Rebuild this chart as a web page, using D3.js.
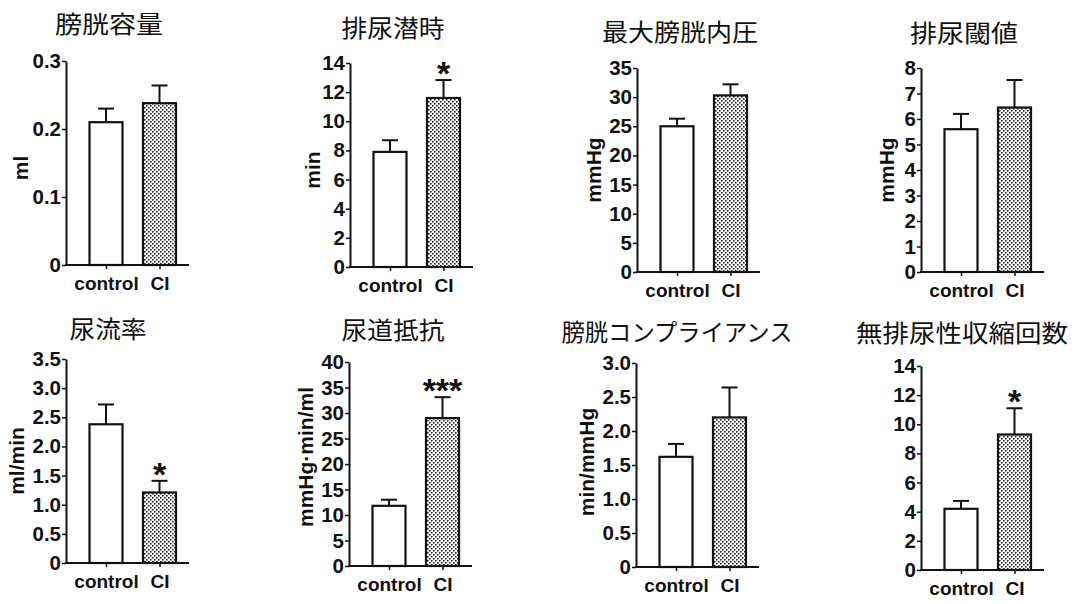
<!DOCTYPE html>
<html>
<head>
<meta charset="utf-8">
<script src="https://cdn.jsdelivr.net/npm/d3@7"></script>
<style>
  body { margin: 0; background: #fff; }
  .tick text { font-family: "Liberation Sans", Arial, sans-serif; font-weight: bold; font-size: 19px; fill: #111; }
  .ytick .tick text { font-size: 20.5px; }
</style>
</head>
<body>
<svg id="chart"></svg>
<script>
var titles = ["膀胱容量", "排尿潜時", "最大膀胱内圧", "排尿閾値", "尿流率", "尿道抵抗", "膀胱コンプライアンス", "無排尿性収縮回数"];
var yLabels = ["ml", "min", "mmHg", "mmHg", "ml/min", "mmHg·min/ml", "min/mmHg", ""];
var groups = ["control", "CI"];
var controlMeans = [0.21, 7.9, 25.0, 5.6, 2.38, 11.8, 1.62, 4.2];
var controlErrs  = [0.02, 0.8, 1.3, 0.6, 0.34, 1.2, 0.19, 0.54];
var ciMeans = [0.238, 11.6, 30.3, 6.45, 1.21, 29.0, 2.2, 9.3];
var ciErrs  = [0.026, 1.23, 1.9, 1.08, 0.2, 4.1, 0.44, 1.8];
var stars = ["", "*", "", "", "*", "***", "", "*"];
var yTickLabels = [
  ["0", "0.1", "0.2", "0.3"],
  ["0", "2", "4", "6", "8", "10", "12", "14"],
  ["0", "5", "10", "15", "20", "25", "30", "35"],
  ["0", "1", "2", "3", "4", "5", "6", "7", "8"],
  ["0", "0.5", "1.0", "1.5", "2.0", "2.5", "3.0", "3.5"],
  ["0", "5", "10", "15", "20", "25", "30", "35", "40"],
  ["0", "0.5", "1.0", "1.5", "2.0", "2.5", "3.0"],
  ["0", "2", "4", "6", "8", "10", "12", "14"]
];

var width = 1078;
var height = 604;
var plotH = 204;
var axisLen = 123;
var barW = 33;

// where each panel sits on the page
var layout = [
  {ax: 66,  top: 61,  tx: 109, ty: 24,  tw: 108, lx: 28,  ly: 168},
  {ax: 350, top: 63,  tx: 393, ty: 28,  tw: 103, lx: 320, ly: 170},
  {ax: 637, top: 68,  tx: 680, ty: 32,  tw: 156, lx: 601, ly: 170},
  {ax: 921, top: 68,  tx: 964, ty: 33,  tw: 108, lx: 894, ly: 170},
  {ax: 66,  top: 359, tx: 108, ty: 329, tw: 77,  lx: 24,  ly: 461},
  {ax: 349, top: 362, tx: 393, ty: 330, tw: 103, lx: 313, ly: 457},
  {ax: 636, top: 363, tx: 677, ty: 332, tw: 231, lx: 594, ly: 462},
  {ax: 921, top: 366, tx: 962, ty: 333, tw: 212, lx: 0,   ly: 0}
];

var svg = d3.select("#chart")
            .attr("width", width)
            .attr("height", height);

var defs = svg.append("defs");
var pat = defs.append("pattern")
              .attr("id", "stipple")
              .attr("patternUnits", "userSpaceOnUse")
              .attr("width", 4)
              .attr("height", 4);
pat.append("rect").attr("width", 4).attr("height", 4).attr("fill", "#fff");
pat.append("rect").attr("x", 0).attr("y", 0).attr("width", 1.6).attr("height", 1.6).attr("fill", "#222");
pat.append("rect").attr("x", 2).attr("y", 2).attr("width", 1.6).attr("height", 1.6).attr("fill", "#222");

var drawPanel = function(i)
{
  var L = layout[i];
  var ticks = yTickLabels[i].map(function(s) { return +s; });
  var yMax = ticks[ticks.length - 1];

  var rows = groups.map(function(g, j)
  {
    return {
      group: g,
      mean: j == 0 ? controlMeans[i] : ciMeans[i],
      err: j == 0 ? controlErrs[i] : ciErrs[i],
      fill: j == 0 ? "#fff" : "url(#stipple)"
    };
  });

  var g = svg.append("g")
             .attr("transform", "translate(" + L.ax + "," + L.top + ")");

  var y = d3.scaleLinear().domain([0, yMax]).range([plotH, 0]);
  var x = d3.scalePoint().domain(groups).range([40, 93.5]);

  // title
  svg.append("text")
     .text(titles[i])
     .attr("x", L.tx)
     .attr("y", L.ty + 9)
     .attr("text-anchor", "middle")
     .attr("textLength", L.tw)
     .attr("lengthAdjust", "spacingAndGlyphs")
     .attr("font-family", "'Noto Sans CJK JP', sans-serif")
     .attr("font-size", 24)
     .attr("fill", "#111");

  // y label
  if (yLabels[i] != "")
  {
    svg.append("text")
       .text(yLabels[i])
       .attr("transform", "translate(" + L.lx + "," + L.ly + ") rotate(-90)")
       .attr("text-anchor", "middle")
       .attr("font-family", "'Liberation Sans', Arial, sans-serif")
       .attr("font-weight", "bold")
       .attr("font-size", 21)
       .attr("fill", "#111");
  }

  // bars
  g.selectAll("rect.bar")
   .data(rows)
   .enter()
   .append("rect")
   .attr("class", "bar")
   .attr("x", function(d) { return x(d.group) - barW / 2; })
   .attr("y", function(d) { return y(d.mean); })
   .attr("width", barW)
   .attr("height", function(d) { return y(0) - y(d.mean); })
   .attr("fill", function(d) { return d.fill; })
   .attr("stroke", "#111")
   .attr("stroke-width", 2.2);

  // error bars (upper only)
  g.selectAll("line.err")
   .data(rows)
   .enter()
   .append("line")
   .attr("class", "err")
   .attr("x1", function(d) { return x(d.group); })
   .attr("x2", function(d) { return x(d.group); })
   .attr("y1", function(d) { return y(d.mean); })
   .attr("y2", function(d) { return y(d.mean + d.err); })
   .attr("stroke", "#111")
   .attr("stroke-width", 2);

  g.selectAll("line.cap")
   .data(rows)
   .enter()
   .append("line")
   .attr("class", "cap")
   .attr("x1", function(d) { return x(d.group) - 8; })
   .attr("x2", function(d) { return x(d.group) + 8; })
   .attr("y1", function(d) { return y(d.mean + d.err); })
   .attr("y2", function(d) { return y(d.mean + d.err); })
   .attr("stroke", "#111")
   .attr("stroke-width", 2);

  // significance marks
  if (stars[i] != "")
  {
    g.append("text")
     .text(stars[i])
     .attr("x", x("CI"))
     .attr("y", y(ciMeans[i] + ciErrs[i]) + 5)
     .attr("text-anchor", "middle")
     .attr("font-family", "'Liberation Sans', Arial, sans-serif")
     .attr("font-weight", "bold")
     .attr("font-size", 34)
     .attr("letter-spacing", stars[i].length > 1 ? 0 : 0)
     .attr("fill", "#111");
  }

  // y axis
  var yAxis = g.append("g")
               .attr("class", "ytick")
               .call(d3.axisLeft(y)
                       .tickValues(ticks)
                       .tickFormat(function(d, k) { return yTickLabels[i][k]; })
                       .tickSizeInner(4)
                       .tickSizeOuter(0)
                       .tickPadding(1));
  yAxis.select(".domain").attr("stroke", "#111").attr("stroke-width", 2);
  yAxis.selectAll(".tick line").attr("stroke", "#111").attr("stroke-width", 1.5);

  // x axis
  var xAxis = g.append("g")
               .attr("transform", "translate(0," + plotH + ")")
               .call(d3.axisBottom(x).tickSize(4).tickPadding(8));
  xAxis.select(".domain").remove();
  xAxis.selectAll(".tick line").attr("stroke", "#111").attr("stroke-width", 1.5);

  g.append("line")
   .attr("x1", -1)
   .attr("x2", axisLen)
   .attr("y1", plotH)
   .attr("y2", plotH)
   .attr("stroke", "#111")
   .attr("stroke-width", 2);
};

titles.forEach(function(t, i)
{
  drawPanel(i);
});
</script>
</body>
</html>
